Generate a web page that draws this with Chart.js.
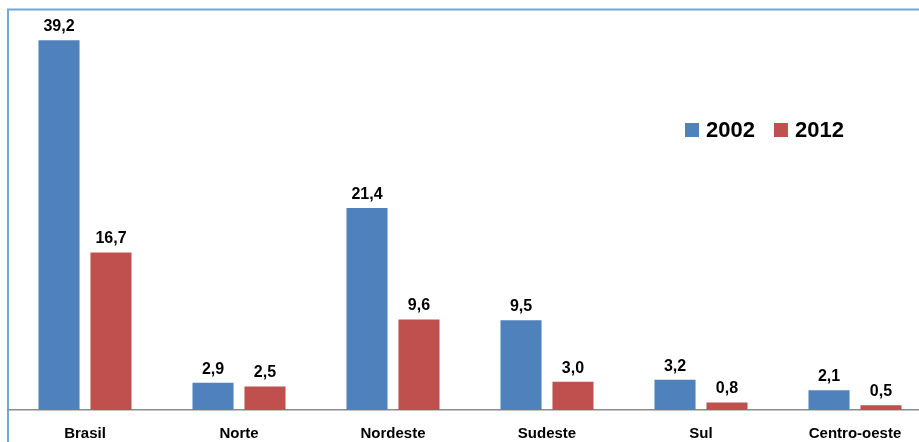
<!DOCTYPE html>
<html>
<head>
<meta charset="utf-8">
<script src="https://cdn.jsdelivr.net/npm/chart.js@4.4.1/dist/chart.umd.min.js"></script>
<style>
  html, body { margin: 0; padding: 0; background: #ffffff; overflow: hidden; }
  #wrap { position: relative; width: 919px; height: 442px; overflow: hidden; }
  canvas { display: block; }
</style>
</head>
<body>
<div id="wrap"><canvas id="chart" width="940" height="442"></canvas></div>
<script>
// Regiões e valores por ano
const regioes = ['Brasil', 'Norte', 'Nordeste', 'Sudeste', 'Sul', 'Centro-oeste'];
const anos = ['2002', '2012'];
const valores2002 = [39.2, 2.9, 21.4, 9.5, 3.2, 2.1];
const valores2012 = [16.7, 2.5, 9.6, 3.0, 0.8, 0.5];

const AZUL = '#4F81BD';
const VERMELHO = '#C0504D';
const FONTE = '"Liberation Sans", Arial, sans-serif';

// Moldura azul clara no topo e à esquerda
const moldura = {
  id: 'moldura',
  beforeDraw(chart) {
    const ctx = chart.ctx;
    ctx.save();
    ctx.strokeStyle = '#6FA8DC';
    ctx.lineWidth = 2;
    ctx.beginPath();
    ctx.moveTo(8, chart.height);
    ctx.lineTo(8, 9.5);
    ctx.lineTo(chart.width, 9.5);
    ctx.stroke();
    ctx.restore();
  }
};

// Rótulos de valor acima das barras (vírgula decimal)
const rotulos = {
  id: 'rotulos',
  afterDatasetsDraw(chart) {
    const ctx = chart.ctx;
    ctx.save();
    ctx.font = 'bold 16px ' + FONTE;
    ctx.fillStyle = '#000000';
    ctx.textAlign = 'center';
    ctx.textBaseline = 'alphabetic';
    chart.data.datasets.forEach((ds, i) => {
      chart.getDatasetMeta(i).data.forEach((bar, j) => {
        const txt = ds.data[j].toFixed(1).replace('.', ',');
        ctx.fillText(txt, bar.x, bar.y - 9);
      });
    });
    ctx.restore();
  }
};

// Legenda dentro da área do gráfico
const legenda = {
  id: 'legenda',
  afterDraw(chart) {
    const ctx = chart.ctx;
    ctx.save();
    ctx.font = 'bold 22px ' + FONTE;
    ctx.textBaseline = 'middle';
    ctx.textAlign = 'left';
    let x = 685;
    const y = 130;
    chart.data.datasets.forEach(ds => {
      ctx.fillStyle = ds.backgroundColor;
      ctx.fillRect(x, y - 7, 14, 14);
      ctx.fillStyle = '#000000';
      ctx.fillText(ds.label, x + 21, y + 1);
      x += 21 + ctx.measureText(ds.label).width + 19;
    });
    ctx.restore();
  }
};

new Chart(document.getElementById('chart'), {
  type: 'bar',
  data: {
    labels: regioes,
    datasets: [
      { label: anos[0], data: valores2002, backgroundColor: AZUL },
      { label: anos[1], data: valores2012, backgroundColor: VERMELHO }
    ]
  },
  options: {
    responsive: false,
    animation: false,
    events: [],
    layout: { padding: { left: 8, right: 8, top: 9, bottom: 0 } },
    datasets: { bar: { categoryPercentage: 0.675, barPercentage: 0.79 } },
    plugins: { legend: { display: false }, tooltip: { enabled: false } },
    scales: {
      x: {
        grid: { display: false, drawTicks: false },
        border: { display: true, color: '#8C8C8C', width: 1.5 },
        ticks: { color: '#000000', padding: 15, font: { family: FONTE, size: 15, weight: 'bold' } },
        afterFit(scale) { scale.height = 32; }
      },
      y: {
        display: false,
        min: 0,
        max: 42.5
      }
    }
  },
  plugins: [moldura, rotulos, legenda]
});
</script>
</body>
</html>
